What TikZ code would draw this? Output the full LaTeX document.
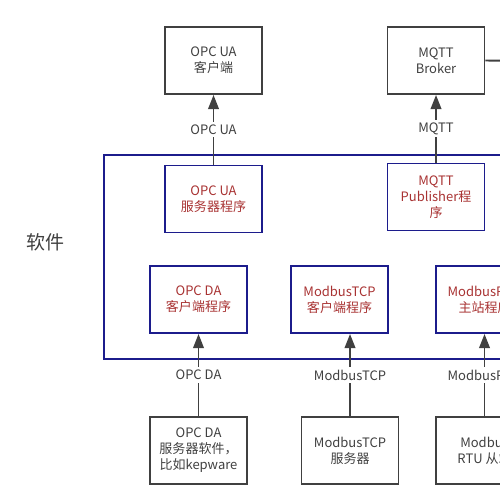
\documentclass[tikz,border=0pt]{standalone}
\usepackage{fontspec}
\setmainfont{Noto Sans CJK SC}
\usetikzlibrary{arrows, arrows.meta}

\definecolor{boxgray}{HTML}{404040}
\definecolor{frameblue}{HTML}{1C1C8C}
\definecolor{progred}{HTML}{A83232}

\begin{document}
\begin{tikzpicture}[
    devbox/.style={draw=boxgray, line width=1.1pt, minimum width=1.94cm, minimum height=1.34cm,
        align=center, text=boxgray, font=\fontsize{7.4}{9.1}\selectfont},
    progbox/.style={draw=frameblue, line width=1.1pt, minimum width=1.94cm, minimum height=1.34cm,
        align=center, text=progred, font=\fontsize{7.4}{9.1}\selectfont},
    link/.style={draw=boxgray, line width=1.1pt, -{Triangle[length=8pt, width=6pt]}},
    proto/.style={fill=white, text=boxgray, inner sep=1.5pt, font=\fontsize{7.4}{9.1}\selectfont}
]
    \useasboundingbox (0,0) rectangle (10,-10);
    \clip (0,0) rectangle (10,-10);

    \node[devbox] (uaclient) at (4.27,-1.21) {OPC UA\\客户端};
    \node[devbox] (broker) at (8.72,-1.21) {MQTT\\Broker};

    \draw [frameblue, line width=1.1pt] (2.08,-3.1) rectangle (11,-7.18);
    \node[text=boxgray, font=\fontsize{10.8}{13}\selectfont] (software) at (0.9,-4.84) {软件};

    \node[progbox] (uaserver) at (4.27,-3.98) {OPC UA\\服务器程序};
    \node[progbox] (mqttpub) at (8.72,-3.94) {MQTT\\Publisher程\\序};

    \node[progbox] (daclient) at (3.97,-5.99) {OPC DA\\客户端程序};
    \node[progbox] (tcpclient) at (6.79,-5.99) {ModbusTCP\\客户端程序};
    \node[progbox] (rtumaster) at (9.69,-5.99) {ModbusRTU\\主站程序};

    \node[devbox] (daserver) at (3.97,-9.01) {OPC DA\\服务器软件，\\比如kepware};
    \node[devbox] (tcpserver) at (7.0,-9.01) {ModbusTCP\\服务器};
    \node[devbox] (rtuslave) at (9.69,-9.01) {Modbus\\RTU 从站};

    \coordinate (brokerout) at (10.5,-1.22);
    \draw [boxgray, line width=1.1pt] (broker.east) -- (brokerout);

    \draw [link] (uaserver) -- (uaclient) node[proto, midway] {OPC UA};
    \draw [link] (mqttpub.north) -- (mqttpub.north |- broker.south) node[proto, midway] {MQTT};
    \draw [link] (daserver) -- (daclient) node[proto, midway] {OPC DA};
    \draw [link] (tcpserver.north) -- (tcpserver.north |- tcpclient.south) node[proto, midway] {ModbusTCP};
    \draw [link] (rtuslave) -- (rtumaster) node[proto, midway] {ModbusRTU};

\end{tikzpicture}
\end{document}
